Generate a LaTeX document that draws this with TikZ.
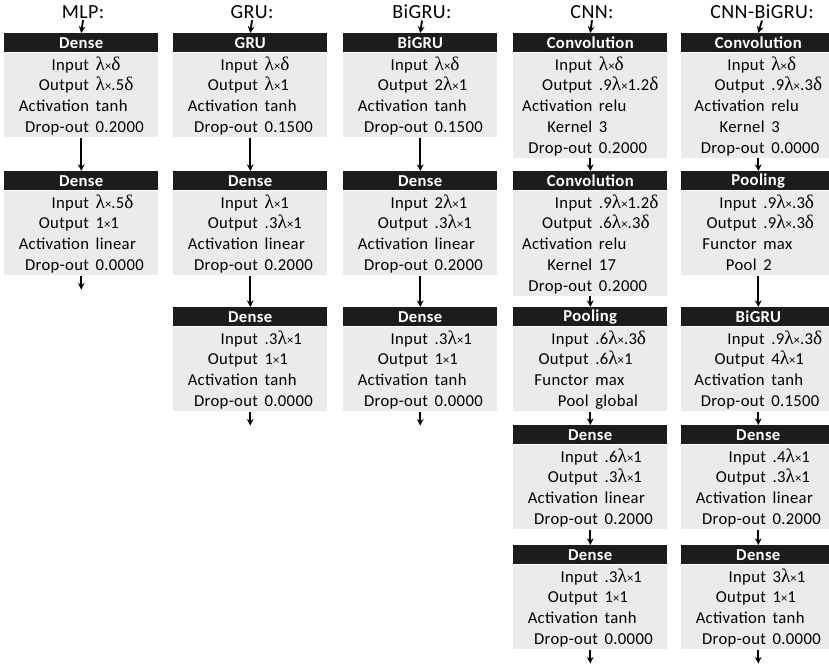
\documentclass[tikz,border=0pt]{standalone}
\usepackage{fontspec}
\setmainfont[LetterSpace=2]{Carlito}
\newfontfamily\grk{Liberation Serif}
\usetikzlibrary{positioning,arrows.meta}
\definecolor{bodygray}{HTML}{EBEBEB}
\definecolor{headblack}{HTML}{1C1C1C}
\newcommand{\lmb}{{\grk\fontsize{14.5}{14.5}\selectfont λ}}
\newcommand{\dlt}{{\grk\fontsize{14.5}{14.5}\selectfont δ}}
\newcommand{\tms}{{\fontsize{9.5}{9.5}\selectfont ×}}
\newcommand{\kv}[1]{\raisebox{-1.5pt}[\height][\depth]{\begin{tabular}{@{}r@{\hspace{5pt}}l@{}}#1\end{tabular}}}
\begin{document}
\begin{tikzpicture}[x=0.75pt,y=-0.75pt,>={Stealth[length=5pt,width=5pt]},
	head/.style={fill=headblack,text=white,font=\fontsize{12.5}{14}\selectfont\bfseries,minimum width=115.5pt,minimum height=14.25pt,inner sep=0pt,anchor=north west},
	body/.style={fill=bodygray,text=black,font=\fontsize{12.5}{15.6}\selectfont,minimum width=115.5pt,inner xsep=0pt,inner ysep=0.5pt},
	title/.style={font=\fontsize{15}{17}\selectfont,text=black,inner sep=1pt},
	flow/.style={->,line width=1.4pt,black}]
	\useasboundingbox (0,0) rectangle (829,665);
	% titles
	\node[title] (mlpt) at (83,12) {MLP:};
	\node[title] (grut) at (252,12) {GRU:};
	\node[title] (bigrut) at (422,12) {BiGRU:};
	\node[title] (cnnt) at (592,12) {CNN:};
	\node[title] (cbgt) at (762,12) {CNN-BiGRU:};
	% MLP
	\node[head] (mlp1h) at (4,33) {Dense};
	\node[body,below=0pt of mlp1h] (mlp1) {\kv{Input & \lmb\tms\dlt\\ Output & \lmb\tms.5\dlt\\ Activation & tanh\\ Drop-out & 0.2000}};
	\node[head] (mlp2h) at (4,171) {Dense};
	\node[body,below=0pt of mlp2h] (mlp2) {\kv{Input & \lmb\tms.5\dlt\\ Output & 1\tms1\\ Activation & linear\\ Drop-out & 0.0000}};
	% GRU
	\node[head] (gru1h) at (173,33) {GRU};
	\node[body,below=0pt of gru1h] (gru1) {\kv{Input & \lmb\tms\dlt\\ Output & \lmb\tms1\\ Activation & tanh\\ Drop-out & 0.1500}};
	\node[head] (gru2h) at (173,171) {Dense};
	\node[body,below=0pt of gru2h] (gru2) {\kv{Input & \lmb\tms1\\ Output & .3\lmb\tms1\\ Activation & linear\\ Drop-out & 0.2000}};
	\node[head] (gru3h) at (173,307) {Dense};
	\node[body,below=0pt of gru3h] (gru3) {\kv{Input & .3\lmb\tms1\\ Output & 1\tms1\\ Activation & tanh\\ Drop-out & 0.0000}};
	% BiGRU
	\node[head] (bigru1h) at (343,33) {BiGRU};
	\node[body,below=0pt of bigru1h] (bigru1) {\kv{Input & \lmb\tms\dlt\\ Output & 2\lmb\tms1\\ Activation & tanh\\ Drop-out & 0.1500}};
	\node[head] (bigru2h) at (343,171) {Dense};
	\node[body,below=0pt of bigru2h] (bigru2) {\kv{Input & 2\lmb\tms1\\ Output & .3\lmb\tms1\\ Activation & linear\\ Drop-out & 0.2000}};
	\node[head] (bigru3h) at (343,307) {Dense};
	\node[body,below=0pt of bigru3h] (bigru3) {\kv{Input & .3\lmb\tms1\\ Output & 1\tms1\\ Activation & tanh\\ Drop-out & 0.0000}};
	% CNN
	\node[head] (cnn1h) at (513,33) {Convolution};
	\node[body,below=0pt of cnn1h] (cnn1) {\kv{Input & \lmb\tms\dlt\\ Output & .9\lmb\tms1.2\dlt\\ Activation & relu\\ Kernel & 3\\ Drop-out & 0.2000}};
	\node[head] (cnn2h) at (513,171) {Convolution};
	\node[body,below=0pt of cnn2h] (cnn2) {\kv{Input & .9\lmb\tms1.2\dlt\\ Output & .6\lmb\tms.3\dlt\\ Activation & relu\\ Kernel & 17\\ Drop-out & 0.2000}};
	\node[head] (cnn3h) at (513,307) {Pooling};
	\node[body,below=0pt of cnn3h] (cnn3) {\kv{Input & .6\lmb\tms.3\dlt\\ Output & .6\lmb\tms1\\ Functor & max\\ Pool & global}};
	\node[head] (cnn4h) at (513,425) {Dense};
	\node[body,below=0pt of cnn4h] (cnn4) {\kv{Input & .6\lmb\tms1\\ Output & .3\lmb\tms1\\ Activation & linear\\ Drop-out & 0.2000}};
	\node[head] (cnn5h) at (513,545) {Dense};
	\node[body,below=0pt of cnn5h] (cnn5) {\kv{Input & .3\lmb\tms1\\ Output & 1\tms1\\ Activation & tanh\\ Drop-out & 0.0000}};
	% CNN-BiGRU
	\node[head] (cbg1h) at (681,33) {Convolution};
	\node[body,below=0pt of cbg1h] (cbg1) {\kv{Input & \lmb\tms\dlt\\ Output & .9\lmb\tms.3\dlt\\ Activation & relu\\ Kernel & 3\\ Drop-out & 0.0000}};
	\node[head] (cbg2h) at (681,171) {Pooling};
	\node[body,below=0pt of cbg2h] (cbg2) {\kv{Input & .9\lmb\tms.3\dlt\\ Output & .9\lmb\tms.3\dlt\\ Functor & max\\ Pool & 2}};
	\node[head] (cbg3h) at (681,307) {BiGRU};
	\node[body,below=0pt of cbg3h] (cbg3) {\kv{Input & .9\lmb\tms.3\dlt\\ Output & 4\lmb\tms1\\ Activation & tanh\\ Drop-out & 0.1500}};
	\node[head] (cbg4h) at (681,425) {Dense};
	\node[body,below=0pt of cbg4h] (cbg4) {\kv{Input & .4\lmb\tms1\\ Output & .3\lmb\tms1\\ Activation & linear\\ Drop-out & 0.2000}};
	\node[head] (cbg5h) at (681,545) {Dense};
	\node[body,below=0pt of cbg5h] (cbg5) {\kv{Input & 3\lmb\tms1\\ Output & 1\tms1\\ Activation & tanh\\ Drop-out & 0.0000}};
	% free ends of the last arrows
	\coordinate[below=10.5pt of mlp2.south] (mlpo);
	\coordinate[below=10.5pt of gru3.south] (gruo);
	\coordinate[below=10.5pt of bigru3.south] (bigruo);
	\coordinate[below=10.5pt of cnn5.south] (cnno);
	\coordinate[below=10.5pt of cbg5.south] (cbgo);
	% arrows
	\draw[flow] (mlpt.south) -- (mlp1h.north);
	\draw[flow] (mlp1.south) -- (mlp2h.north);
	\draw[flow] (mlp2.south) -- (mlpo);
	\draw[flow] (grut.south) -- (gru1h.north);
	\draw[flow] (gru1.south) -- (gru2h.north);
	\draw[flow] (gru2.south) -- (gru3h.north);
	\draw[flow] (gru3.south) -- (gruo);
	\draw[flow] (bigrut.south) -- (bigru1h.north);
	\draw[flow] (bigru1.south) -- (bigru2h.north);
	\draw[flow] (bigru2.south) -- (bigru3h.north);
	\draw[flow] (bigru3.south) -- (bigruo);
	\draw[flow] (cnnt.south) -- (cnn1h.north);
	\draw[flow] (cnn1.south) -- (cnn2h.north);
	\draw[flow] (cnn2.south) -- (cnn3h.north);
	\draw[flow] (cnn3.south) -- (cnn4h.north);
	\draw[flow] (cnn4.south) -- (cnn5h.north);
	\draw[flow] (cnn5.south) -- (cnno);
	\draw[flow] (cbgt.south) -- (cbg1h.north);
	\draw[flow] (cbg1.south) -- (cbg2h.north);
	\draw[flow] (cbg2.south) -- (cbg3h.north);
	\draw[flow] (cbg3.south) -- (cbg4h.north);
	\draw[flow] (cbg4.south) -- (cbg5h.north);
	\draw[flow] (cbg5.south) -- (cbgo);
\end{tikzpicture}
\end{document}
